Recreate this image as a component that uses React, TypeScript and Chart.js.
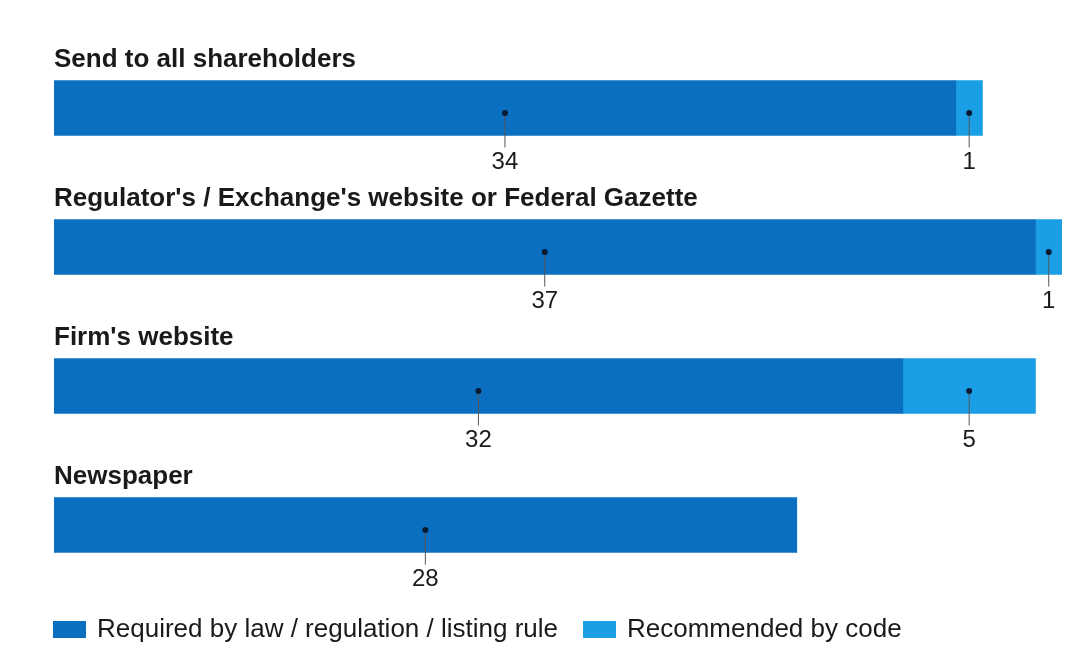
import React, { useEffect, useRef } from "react";
import { Chart, registerables } from "chart.js";

Chart.register(...registerables);

const categories = [
  "Send to all shareholders",
  "Regulator's / Exchange's website or Federal Gazette",
  "Firm's website",
  "Newspaper",
];
const requiredByLaw = [34, 37, 32, 28];
const recommendedByCode = [1, 1, 5, 0];
const seriesNames = ["Required by law / regulation / listing rule", "Recommended by code"];
const seriesColors = ["#0b6fc1", "#1a9ee5"];
const axisMax = 38;

const FONT = "'Liberation Sans', Arial, sans-serif";

const annotatePlugin = {
  id: "annotate",
  afterDatasetsDraw(chart: any) {
    const ctx = chart.ctx;
    ctx.save();
    // Category titles above bars
    const meta0 = chart.getDatasetMeta(0);
    meta0.data.forEach((bar: any, i: number) => {
      const top = bar.y - bar.height / 2;
      ctx.fillStyle = "#1a1a1a";
      ctx.font = `bold 26px ${FONT}`;
      ctx.textAlign = "left";
      ctx.textBaseline = "alphabetic";
      ctx.fillText(categories[i], chart.chartArea.left, top - 14);
    });
    // Value labels with leader lines
    chart.data.datasets.forEach((ds: any, di: number) => {
      const meta = chart.getDatasetMeta(di);
      meta.data.forEach((bar: any, i: number) => {
        const v = ds.data[i];
        if (!v) return;
        const cx = (bar.base + bar.x) / 2;
        const bottom = bar.y + bar.height / 2;
        const dotY = bar.y + 5;
        ctx.strokeStyle = "#555";
        ctx.lineWidth = 1;
        ctx.beginPath();
        ctx.moveTo(cx, dotY);
        ctx.lineTo(cx, bottom + 12);
        ctx.stroke();
        ctx.fillStyle = "#0a1a33";
        ctx.beginPath();
        ctx.arc(cx, dotY, 3, 0, Math.PI * 2);
        ctx.fill();
        ctx.fillStyle = "#1a1a1a";
        ctx.font = `24px ${FONT}`;
        ctx.textAlign = "center";
        ctx.textBaseline = "middle";
        ctx.fillText(String(v), cx, bottom + 27);
      });
    });
    // Legend
    const ly = 629.5;
    let x = 53;
    ctx.font = `26px ${FONT}`;
    ctx.textAlign = "left";
    ctx.textBaseline = "middle";
    seriesNames.forEach((name, i) => {
      ctx.fillStyle = seriesColors[i];
      ctx.fillRect(x, ly - 8.5, 33, 17);
      ctx.fillStyle = "#1a1a1a";
      const tx = x + 33 + 11;
      ctx.fillText(name, tx, ly);
      x = tx + ctx.measureText(name).width + 25;
    });
    ctx.restore();
  },
};

export default function App() {
  const ref = useRef<HTMLCanvasElement>(null);
  useEffect(() => {
    if (!ref.current) return;
    const chart = new Chart(ref.current, {
      type: "bar",
      data: {
        labels: categories,
        datasets: [
          { label: seriesNames[0], data: requiredByLaw, backgroundColor: seriesColors[0], barThickness: 55 },
          { label: seriesNames[1], data: recommendedByCode, backgroundColor: seriesColors[1], barThickness: 55 },
        ],
      },
      options: {
        indexAxis: "y",
        responsive: false,
        animation: false,
        layout: { padding: { left: 54, right: 7, top: 38.5, bottom: 62.5 } },
        scales: {
          x: { stacked: true, min: 0, max: axisMax, display: false },
          y: { stacked: true, display: false },
        },
        plugins: {
          legend: { display: false },
          tooltip: { enabled: false },
        },
      },
      plugins: [annotatePlugin],
    });
    return () => chart.destroy();
  }, []);
  return (
    <div style={{ position: "fixed", left: 0, top: 0, width: 1069, height: 657, background: "#fff" }}>
      <canvas ref={ref} width={1069} height={657} />
    </div>
  );
}
